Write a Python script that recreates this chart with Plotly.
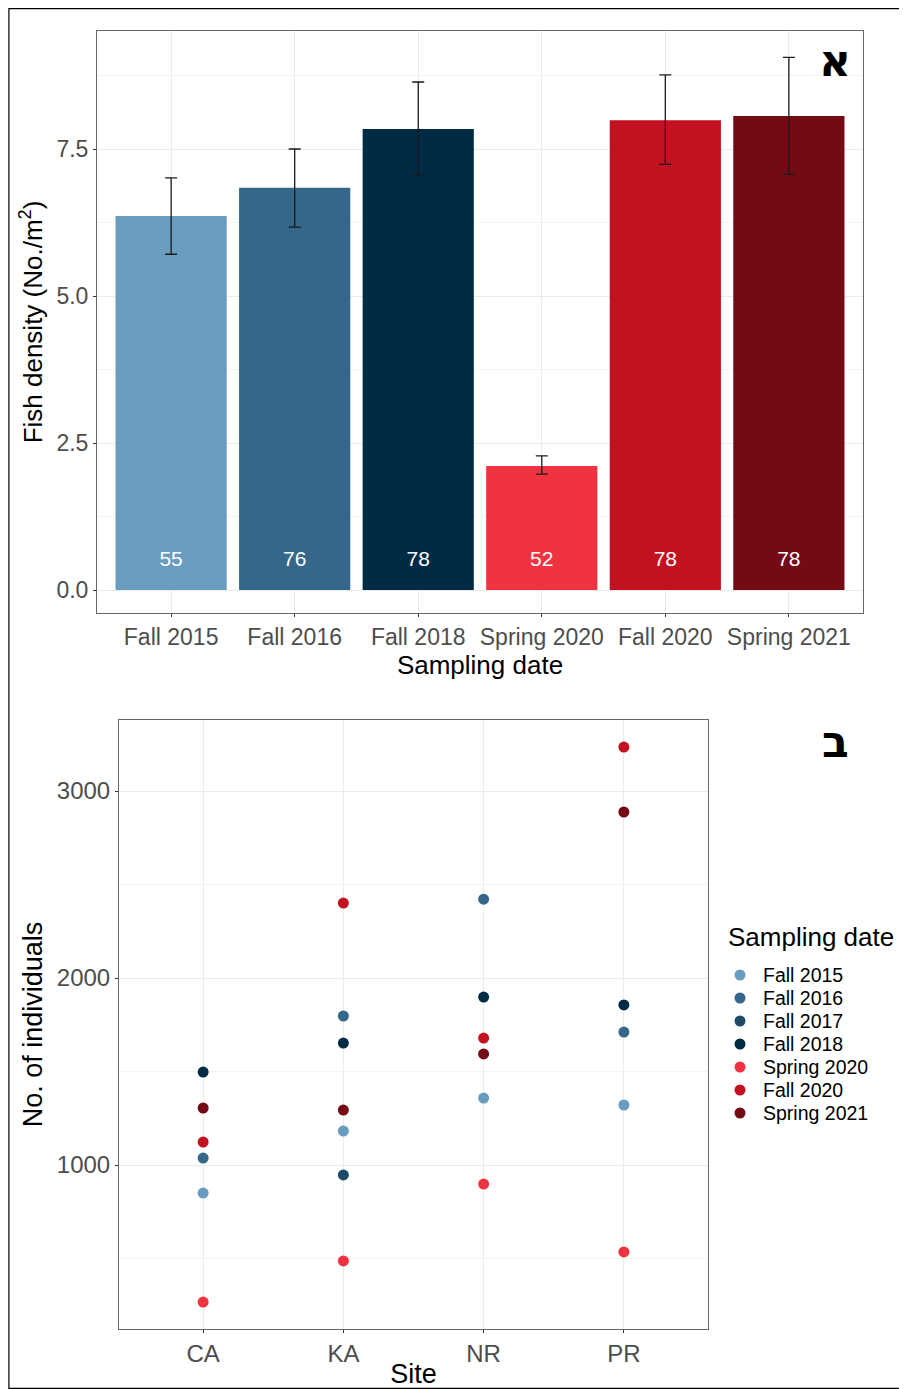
import plotly.graph_objects as go

# ---------------- data ----------------
dates = ["Fall 2015", "Fall 2016", "Fall 2018", "Spring 2020", "Fall 2020", "Spring 2021"]
density = [6.36, 6.84, 7.84, 2.11, 7.99, 8.06]
density_hi = [7.01, 7.50, 8.64, 2.28, 8.76, 9.06]
density_lo = [5.71, 6.17, 7.06, 1.97, 7.24, 7.07]
n_samples = [55, 76, 78, 52, 78, 78]
bar_colors = ["#6a9cc0", "#346789", "#002b45", "#ef3340", "#c2121f", "#730a14"]

sites = ["CA", "KA", "NR", "PR"]
series_names = ["Fall 2015", "Fall 2016", "Fall 2017", "Fall 2018", "Spring 2020", "Fall 2020", "Spring 2021"]
series_colors = ["#6a9cc0", "#346789", "#1e4a6a", "#002b45", "#ef3340", "#c2121f", "#730a14"]
fall2015 = [850, 1182, 1358, 1321]
fall2016 = [1037, 1797, 2422, 1711]
fall2017 = [None, 947, None, None]
fall2018 = [1497, 1652, 1898, 1856]
spring2020 = [267, 487, 898, 535]
fall2020 = [1123, 2401, 1679, 3235]
spring2021 = [1305, 1294, 1594, 2888]
series_values = [fall2015, fall2016, fall2017, fall2018, spring2020, fall2020, spring2021]

# ---------------- figure ----------------
OFF = 8  # page body margin
W, H = 907 - OFF, 1389 - OFF
FONT = "Liberation Sans, Arial, sans-serif"


def px_x(p):
    return (p - OFF) / W


def px_y(p):
    return 1 - (p - OFF) / H


fig = go.Figure()

err_plus = [h - v for h, v in zip(density_hi, density)]
err_minus = [v - l for v, l in zip(density, density_lo)]

fig.add_trace(go.Bar(
    x=dates, y=density, width=0.9,
    marker=dict(color=bar_colors, line=dict(width=0)),
    error_y=dict(type="data", array=err_plus, arrayminus=err_minus,
                 color="#1a1a1a", thickness=1.3, width=6),
    xaxis="x", yaxis="y", showlegend=False,
    hovertemplate="%{x}: %{y}<extra></extra>",
))

fig.add_trace(go.Scatter(
    x=dates, y=[0.5] * len(dates), mode="text",
    text=[str(n) for n in n_samples],
    textfont=dict(color="white", size=21, family=FONT),
    xaxis="x", yaxis="y", showlegend=False, hoverinfo="skip",
))

for name, col, vals in zip(series_names, series_colors, series_values):
    fig.add_trace(go.Scatter(
        x=sites, y=vals, mode="markers", name=name,
        marker=dict(color=col, size=11, line=dict(width=0)),
        xaxis="x2", yaxis="y2", showlegend=False,
    ))

grid = "#ebebeb"
border = "#666666"
tickfont = dict(family=FONT, size=23, color="#4d4d4d")
titlefont = dict(family=FONT, size=26, color="#000000")

# manual legend (ggplot-like compact spacing)
legend_ann = [dict(text="Sampling date", xref="paper", yref="paper",
                   x=px_x(727), y=px_y(937), xanchor="left", yanchor="middle",
                   showarrow=False, borderpad=0,
                   font=dict(family=FONT, size=26, color="#000"))]
legend_shapes = []
for i, (name, col) in enumerate(zip(series_names, series_colors)):
    cy = 975 + 23 * i
    legend_ann.append(dict(text=name, xref="paper", yref="paper",
                           x=px_x(762), y=px_y(cy), xanchor="left", yanchor="middle",
                           showarrow=False, borderpad=0,
                           font=dict(family=FONT, size=19.5, color="#000")))
    legend_shapes.append(dict(type="circle", xref="paper", yref="paper",
                              x0=px_x(740 - 5.5), x1=px_x(740 + 5.5),
                              y0=px_y(cy + 5.5), y1=px_y(cy - 5.5),
                              fillcolor=col, line=dict(width=0)))

fig.update_layout(
    width=W, height=H,
    margin=dict(l=0, r=0, t=0, b=0),
    paper_bgcolor="white", plot_bgcolor="white",
    font=dict(family=FONT),
    showlegend=False,
    xaxis=dict(
        domain=[px_x(97), px_x(863)], anchor="y", type="category",
        range=[-0.6, 5.6], showgrid=True, gridcolor=grid, gridwidth=1,
        ticks="outside", ticklen=3, tickcolor="#333333",
        showline=True, mirror=True, linecolor=border, linewidth=1,
        tickfont=tickfont, zeroline=False,
        title=dict(text="Sampling date", font=titlefont, standoff=0),
    ),
    yaxis=dict(
        domain=[px_y(613), px_y(31)], anchor="x",
        range=[-0.391, 9.507],
        tickvals=[0, 2.5, 5, 7.5], ticktext=["0.0", "2.5", "5.0", "7.5"],
        showgrid=True, gridcolor=grid, gridwidth=1,
        minor=dict(dtick=1.25, tick0=0, showgrid=True, gridcolor="#f4f4f4"),
        ticks="outside", ticklen=3, tickcolor="#333333",
        showline=True, mirror=True, linecolor=border, linewidth=1,
        tickfont=tickfont, zeroline=False,
        title=dict(text="Fish density (No./m<sup>2</sup>)", font=titlefont, standoff=6),
    ),
    xaxis2=dict(
        domain=[px_x(119), px_x(708)], anchor="y2", type="category",
        categoryorder="array", categoryarray=sites,
        range=[-0.6, 3.6], showgrid=True, gridcolor=grid, gridwidth=1,
        ticks="outside", ticklen=3, tickcolor="#333333",
        showline=True, mirror=True, linecolor=border, linewidth=1,
        tickfont=dict(family=FONT, size=24, color="#4d4d4d"), zeroline=False,
        title=dict(text="Site", font=dict(family=FONT, size=27, color="#000"), standoff=0),
    ),
    yaxis2=dict(
        domain=[px_y(1329), px_y(720)], anchor="x2",
        range=[123, 3380],
        tickvals=[1000, 2000, 3000],
        showgrid=True, gridcolor=grid, gridwidth=1,
        minor=dict(dtick=500, tick0=0, showgrid=True, gridcolor="#f4f4f4"),
        ticks="outside", ticklen=3, tickcolor="#333333",
        showline=True, mirror=True, linecolor=border, linewidth=1,
        tickfont=dict(family=FONT, size=24, color="#4d4d4d"), zeroline=False,
        title=dict(text="No. of individuals", font=dict(family=FONT, size=27, color="#000"), standoff=6),
    ),
    shapes=[dict(type="rect", xref="paper", yref="paper",
                 x0=0.001, x1=0.999, y0=0.0005, y1=0.9995,
                 line=dict(color="#000000", width=1.2), fillcolor="rgba(0,0,0,0)")] + legend_shapes,
    annotations=[
        dict(text="<b>א</b>", xref="paper", yref="paper", x=px_x(835), y=px_y(60),
             xanchor="center", yanchor="middle", showarrow=False,
             font=dict(family="DejaVu Sans, Liberation Sans, Arial", size=44, color="#000")),
        dict(text="<b>ב</b>", xref="paper", yref="paper", x=px_x(835), y=px_y(741),
             xanchor="center", yanchor="middle", showarrow=False,
             font=dict(family="DejaVu Sans, Liberation Sans, Arial", size=44, color="#000")),
    ] + legend_ann,
)

fig.write_html("out.html")
